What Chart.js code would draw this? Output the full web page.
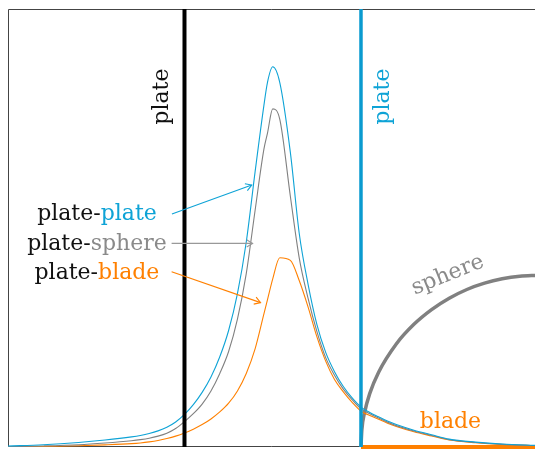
<!DOCTYPE html>
<html>
<head>
<meta charset="utf-8">
<script src="https://cdn.jsdelivr.net/npm/chart.js@4.4.0/dist/chart.umd.min.js"></script>
<style>
  html, body { margin: 0; padding: 0; background: #fff; }
</style>
</head>
<body>
<canvas id="forceChart" width="535" height="449"></canvas>
<script>
// positions across the gap (plate at 1, second body starting at 2)
const xs = [0, 0.2, 0.4, 0.55, 0.7, 0.75, 0.8, 0.85, 0.9, 0.95,
            1.0, 1.05, 1.1, 1.15, 1.2, 1.25, 1.3, 1.35, 1.4, 1.45,
            1.47, 1.5, 1.54, 1.6, 1.65, 1.7, 1.75, 1.8, 1.85, 1.9, 1.95,
            2.0, 2.05, 2.1, 2.15, 2.2, 2.3, 2.4, 2.5, 2.65, 2.8, 3.0];

const plateCurve  = [0.006, 0.013, 0.026, 0.04, 0.058, 0.066, 0.077, 0.092, 0.113, 0.143,
                     0.186, 0.242, 0.312, 0.40, 0.515, 0.665, 0.875, 1.17, 1.57, 1.95,
                     2.08, 2.17, 2.08, 1.68, 1.22, 0.93, 0.70, 0.54, 0.43, 0.345, 0.28,
                     0.228, 0.197, 0.172, 0.148, 0.128, 0.096, 0.07, 0.045, 0.028, 0.017, 0.009];
const sphereCurve = [0.002, 0.006, 0.013, 0.023, 0.036, 0.042, 0.05, 0.062, 0.079, 0.106,
                     0.145, 0.19, 0.245, 0.32, 0.42, 0.545, 0.73, 0.99, 1.35, 1.70,
                     1.79, 1.93, 1.87, 1.43, 1.08, 0.85, 0.66, 0.51, 0.41, 0.33, 0.27,
                     0.218, 0.19, 0.165, 0.142, 0.122, 0.091, 0.066, 0.042, 0.026, 0.015, 0.008];
const bladeCurve  = [0.001, 0.003, 0.007, 0.012, 0.019, 0.023, 0.029, 0.037, 0.048, 0.062,
                     0.08, 0.102, 0.128, 0.16, 0.2, 0.25, 0.32, 0.42, 0.56, 0.76,
                     0.84, 0.96, 1.08, 1.065, 0.95, 0.8, 0.63, 0.49, 0.385, 0.315, 0.255,
                     0.205, 0.18, 0.158, 0.136, 0.117, 0.087, 0.063, 0.04, 0.024, 0.014, 0.007];

// outline of the sphere (quarter circle)
const sphereX = [2.0, 2.005, 2.02, 2.05, 2.1, 2.2, 2.3, 2.4, 2.5, 2.6, 2.7, 2.8, 2.9, 3.0];
const sphereY = [0, 0.098, 0.195, 0.306, 0.427, 0.588, 0.7, 0.784, 0.849, 0.899, 0.935, 0.96, 0.975, 0.98];

const leftPlate = 1;
const rightPlate = 2;
const bladeEnd = 3;
const yTop = 2.5;

const BLUE = '#0ea3d6';
const GRAY = '#808080';
const ORANGE = '#ff8000';

const pts = (xv, yv) => xv.map((v, i) => ({ x: v, y: yv[i] }));

// frame on left, top and bottom
const frame = {
    id: 'frame',
    beforeDatasetsDraw(chart) {
        const { ctx, chartArea: a } = chart;
        ctx.save();
        ctx.strokeStyle = '#444';
        ctx.lineWidth = 1;
        ctx.beginPath();
        ctx.moveTo(a.right, a.top + 0.5);
        ctx.lineTo(a.left + 0.5, a.top + 0.5);
        ctx.lineTo(a.left + 0.5, a.bottom - 0.5);
        ctx.lineTo(a.right, a.bottom - 0.5);
        ctx.stroke();
        ctx.restore();
    }
};

// text labels and arrows
const annotate = {
    id: 'annotate',
    afterDatasetsDraw(chart) {
        const { ctx, scales: { x, y } } = chart;
        const px = v => x.getPixelForValue(v);
        const py = v => y.getPixelForValue(v);

        ctx.save();
        ctx.font = '22px "DejaVu Serif"';
        ctx.textBaseline = 'alphabetic';

        function rotText(t, cx, cy, ang, color) {
            ctx.save();
            ctx.translate(cx, cy);
            ctx.rotate(ang);
            ctx.textAlign = 'center';
            ctx.fillStyle = color;
            ctx.fillText(t, 0, 0);
            ctx.restore();
        }

        function twoTone(a, b, colorB, cx, by) {
            const wa = ctx.measureText(a).width;
            const wb = ctx.measureText(b).width;
            const x0 = cx - (wa + wb) / 2;
            ctx.textAlign = 'left';
            ctx.fillStyle = '#111';
            ctx.fillText(a, x0, by);
            ctx.fillStyle = colorB;
            ctx.fillText(b, x0 + wa, by);
        }

        function arrow(x0, y0, x1, y1, color) {
            ctx.strokeStyle = color;
            ctx.lineWidth = 1.1;
            ctx.beginPath();
            ctx.moveTo(x0, y0);
            ctx.lineTo(x1, y1);
            ctx.stroke();
            const ang = Math.atan2(y1 - y0, x1 - x0);
            const L = 7;
            ctx.beginPath();
            ctx.moveTo(x1 - L * Math.cos(ang - 0.55), y1 - L * Math.sin(ang - 0.55));
            ctx.lineTo(x1, y1);
            ctx.lineTo(x1 - L * Math.cos(ang + 0.55), y1 - L * Math.sin(ang + 0.55));
            ctx.stroke();
        }

        rotText('plate', px(0.907), py(2.0), -Math.PI / 2, '#111');
        rotText('plate', px(2.159), py(2.0), -Math.PI / 2, BLUE);
        rotText('sphere', px(2.504), py(0.95), -22 * Math.PI / 180, '#8a8a8a');

        ctx.textAlign = 'center';
        ctx.fillStyle = ORANGE;
        ctx.fillText('blade', px(2.507), py(0.107));

        twoTone('plate-', 'plate', BLUE, px(0.504), py(1.296));
        twoTone('plate-', 'sphere', '#8a8a8a', px(0.504), py(1.125));
        twoTone('plate-', 'blade', ORANGE, px(0.504), py(0.959));

        arrow(px(0.929), py(1.33), px(1.381), py(1.495), BLUE);
        arrow(px(0.927), py(1.162), px(1.386), py(1.162), '#999');
        arrow(px(0.927), py(1.0), px(1.431), py(0.824), ORANGE);

        ctx.restore();
    }
};

const curveStyle = {
    borderWidth: 1.1,
    pointRadius: 0,
    cubicInterpolationMode: 'monotone',
    fill: false
};

new Chart(document.getElementById('forceChart'), {
    type: 'line',
    data: {
        datasets: [
            { data: [{ x: leftPlate, y: 0 }, { x: leftPlate, y: yTop }], borderColor: '#000', borderWidth: 4, pointRadius: 0, clip: false },
            { data: [{ x: rightPlate, y: 0 }, { x: rightPlate, y: yTop }], borderColor: '#0a9bd0', borderWidth: 3.5, pointRadius: 0, clip: false },
            { data: pts(xs, plateCurve), borderColor: BLUE, ...curveStyle },
            { data: pts(xs, sphereCurve), borderColor: GRAY, ...curveStyle },
            { data: pts(xs, bladeCurve), borderColor: ORANGE, ...curveStyle },
            { data: pts(sphereX, sphereY), borderColor: GRAY, borderWidth: 3.5, pointRadius: 0, cubicInterpolationMode: 'monotone', clip: false },
            { data: [{ x: rightPlate, y: 0 }, { x: bladeEnd, y: 0 }], borderColor: ORANGE, borderWidth: 4, pointRadius: 0, clip: false }
        ]
    },
    options: {
        responsive: false,
        animation: false,
        layout: { padding: { left: 8, top: 9, right: 0, bottom: 2 } },
        plugins: { legend: { display: false }, tooltip: { enabled: false } },
        scales: {
            x: { type: 'linear', min: 0, max: 2.986, display: false },
            y: { type: 'linear', min: 0, max: yTop, display: false }
        }
    },
    plugins: [frame, annotate]
});
</script>
</body>
</html>
